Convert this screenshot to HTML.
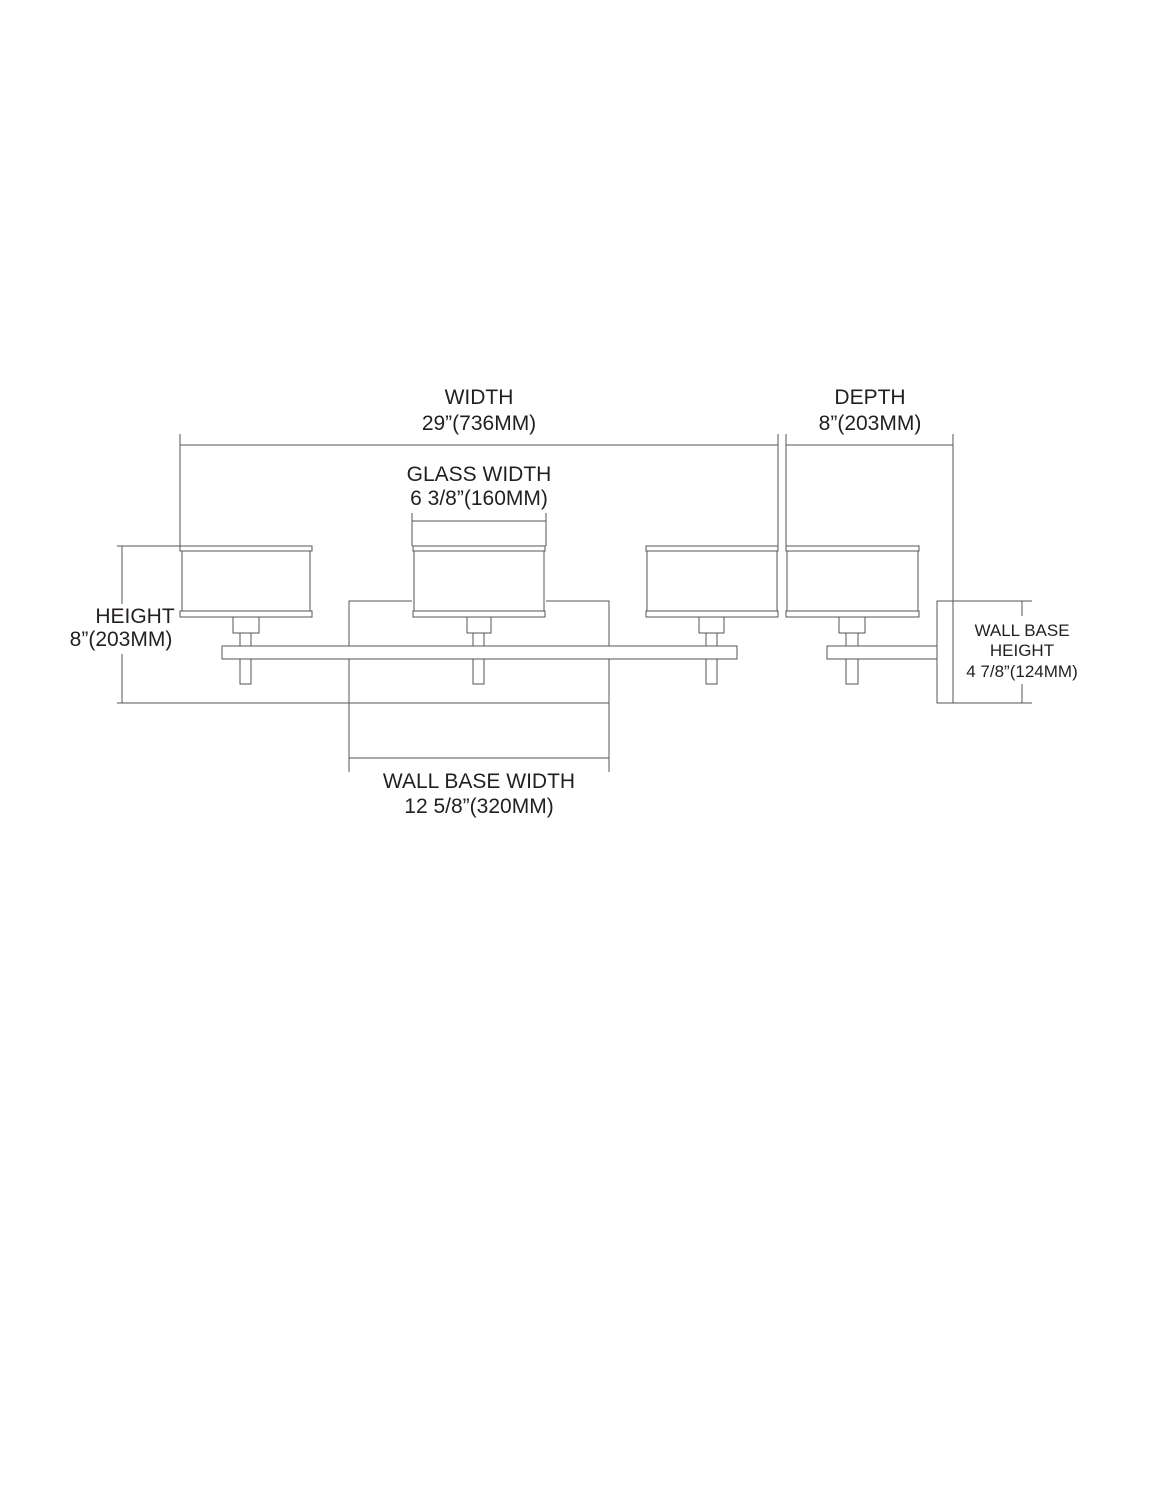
<!DOCTYPE html>
<html><head><meta charset="utf-8"><style>
html,body{margin:0;padding:0;background:#fff;}
svg{display:block;}
text{font-family:"Liberation Sans",sans-serif;fill:#231f20;}
</style></head><body>
<svg width="1159" height="1500" viewBox="0 0 1159 1500" xmlns="http://www.w3.org/2000/svg">
<g fill="none" stroke="#555" stroke-width="1">
  <line x1="180" y1="434" x2="180" y2="546"/>
  <line x1="778" y1="434" x2="778" y2="546"/>
  <line x1="180" y1="445" x2="778" y2="445"/>
  <line x1="786" y1="434" x2="786" y2="546"/>
  <line x1="953" y1="434" x2="953" y2="601"/>
  <line x1="786" y1="445" x2="953" y2="445"/>
  <line x1="412" y1="513" x2="412" y2="546"/>
  <line x1="546" y1="513" x2="546" y2="546"/>
  <line x1="412" y1="521" x2="546" y2="521"/>
  <line x1="117" y1="546" x2="180" y2="546"/>
  <line x1="122" y1="546" x2="122" y2="604"/>
  <line x1="122" y1="654" x2="122" y2="703"/>
  <line x1="117" y1="703" x2="609" y2="703"/>
  <polyline points="349,772 349,601 412,601"/>
  <polyline points="546,601 609,601 609,772"/>
  <line x1="349" y1="758" x2="609" y2="758"/>
  <rect x="222" y="646" width="515" height="13" fill="#fff"/>
  <rect x="180" y="546" width="132" height="5" fill="#fff"/>
  <rect x="182" y="551" width="128" height="60" fill="#fff"/>
  <rect x="180" y="611" width="132" height="6" fill="#fff"/>
  <rect x="233" y="617" width="26" height="16" fill="#fff"/>
  <rect x="240" y="633" width="11" height="13" fill="#fff"/>
  <rect x="240" y="659" width="11" height="25" fill="#fff"/>
  <rect x="413" y="546" width="132" height="5" fill="#fff"/>
  <rect x="414" y="551" width="130" height="60" fill="#fff"/>
  <rect x="413" y="611" width="132" height="6" fill="#fff"/>
  <rect x="467" y="617" width="24" height="16" fill="#fff"/>
  <rect x="473" y="633" width="11" height="13" fill="#fff"/>
  <rect x="473" y="659" width="11" height="25" fill="#fff"/>
  <rect x="646" y="546" width="132" height="5" fill="#fff"/>
  <rect x="647" y="551" width="130" height="60" fill="#fff"/>
  <rect x="646" y="611" width="132" height="6" fill="#fff"/>
  <rect x="699" y="617" width="25" height="16" fill="#fff"/>
  <rect x="706" y="633" width="11" height="13" fill="#fff"/>
  <rect x="706" y="659" width="11" height="25" fill="#fff"/>
  <rect x="786" y="546" width="133" height="5" fill="#fff"/>
  <rect x="787" y="551" width="131" height="60" fill="#fff"/>
  <rect x="786" y="611" width="133" height="6" fill="#fff"/>
  <rect x="839" y="617" width="26" height="16" fill="#fff"/>
  <rect x="846" y="633" width="12" height="13" fill="#fff"/>
  <rect x="827" y="646" width="110" height="13" fill="#fff"/>
  <rect x="846" y="659" width="12" height="25" fill="#fff"/>
  <rect x="937" y="601" width="16" height="102" fill="#fff"/>
  <line x1="953" y1="601" x2="1032" y2="601"/>
  <line x1="953" y1="703" x2="1032" y2="703"/>
  <line x1="1022" y1="601" x2="1022" y2="616"/>
  <line x1="1022" y1="684" x2="1022" y2="703"/>
</g>
<g font-size="21" text-anchor="middle">
  <text x="479" y="404">WIDTH</text>
  <text x="479" y="430">29”(736MM)</text>
  <text x="479" y="481">GLASS WIDTH</text>
  <text x="479" y="505">6 3/8”(160MM)</text>
  <text x="870" y="404">DEPTH</text>
  <text x="870" y="430">8”(203MM)</text>
  <text x="135" y="623">HEIGHT</text>
  <text x="121" y="646">8”(203MM)</text>
  <text x="479" y="788">WALL BASE WIDTH</text>
  <text x="479" y="813">12 5/8”(320MM)</text>
</g>
<g font-size="17" text-anchor="middle">
  <text x="1022" y="636">WALL BASE</text>
  <text x="1022" y="656">HEIGHT</text>
  <text x="1022" y="677">4 7/8”(124MM)</text>
</g>
</svg>
</body></html>
